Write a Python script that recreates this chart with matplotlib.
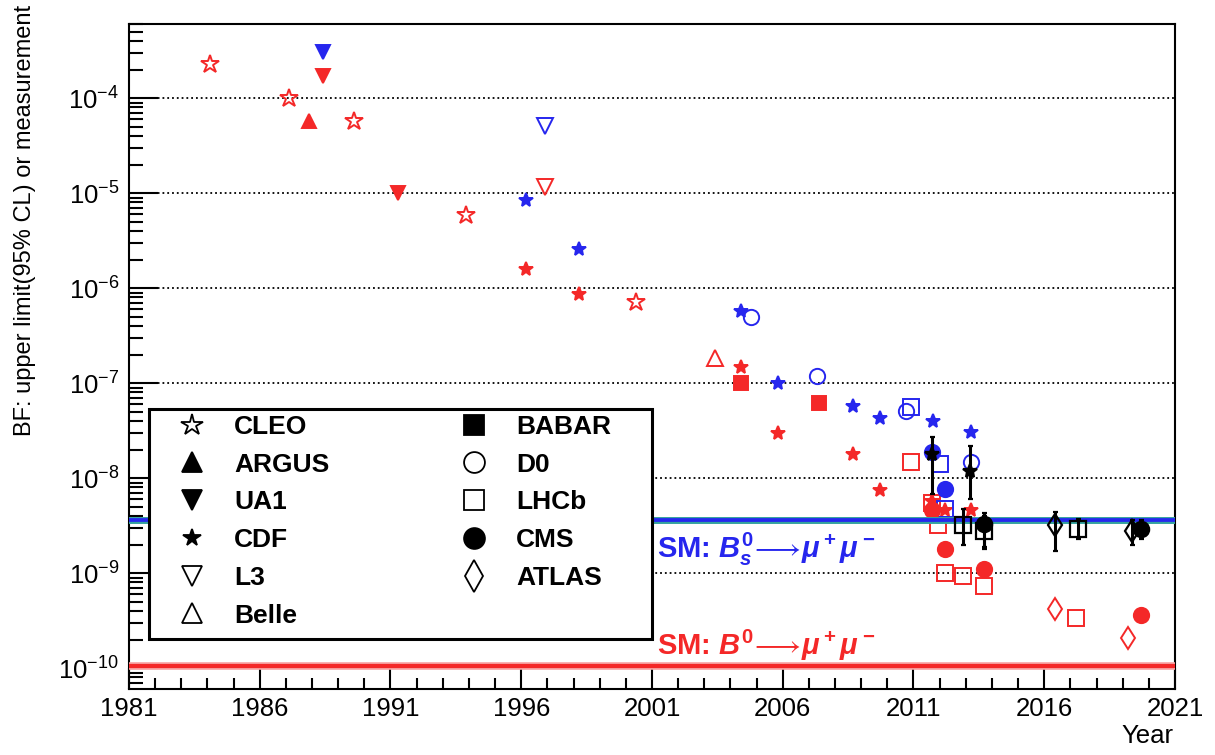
import numpy as np
import matplotlib.pyplot as plt
from matplotlib.lines import Line2D
from matplotlib.patches import Rectangle
from matplotlib.ticker import FixedLocator, MultipleLocator, LogLocator, NullFormatter, FuncFormatter

plt.rcParams['font.family'] = ['Liberation Sans', 'DejaVu Sans']
plt.rcParams['mathtext.fontset'] = 'custom'
plt.rcParams['mathtext.rm'] = 'Liberation Sans:bold'
plt.rcParams['mathtext.it'] = 'Liberation Sans:bold:italic'
plt.rcParams['mathtext.bf'] = 'Liberation Sans:bold'

# kind: 'd' = B0 -> mu mu limit (red), 's' = Bs -> mu mu limit (blue)
CLEO_YEAR = [1984.1, 1987.1, 1989.6, 1993.9, 2000.4]
CLEO_BF = [2.3e-4, 1.0e-4, 5.8e-5, 5.9e-6, 7.2e-7]
CLEO_KIND = ['d', 'd', 'd', 'd', 'd']

ARGUS_YEAR = [1987.9]
ARGUS_BF = [5.7e-5]
ARGUS_KIND = ['d']

UA1_YEAR = [1988.4, 1988.4, 1991.3]
UA1_BF = [3.1e-4, 1.7e-4, 1.0e-5]
UA1_KIND = ['s', 'd', 'd']

CDF_YEAR = [1996.2, 1996.2, 1998.2, 1998.2, 2004.4, 2004.4, 2005.8, 2005.8,
            2008.7, 2008.7, 2009.7, 2009.7, 2011.75, 2011.7, 2012.2, 2013.2, 2013.2]
CDF_BF = [8.4e-6, 1.6e-6, 2.6e-6, 8.7e-7, 5.8e-7, 1.5e-7, 1.0e-7, 3.0e-8,
          5.7e-8, 1.8e-8, 4.3e-8, 7.6e-9, 4.0e-8, 5.8e-9, 4.6e-9, 3.1e-8, 4.6e-9]
CDF_KIND = ['s', 'd', 's', 'd', 's', 'd', 's', 'd',
            's', 'd', 's', 'd', 's', 'd', 'd', 's', 'd']

L3_YEAR = [1996.9, 1996.9]
L3_BF = [5.1e-5, 1.17e-5]
L3_KIND = ['s', 'd']

BELLE_YEAR = [2003.4]
BELLE_BF = [1.85e-7]
BELLE_KIND = ['d']

BABAR_YEAR = [2004.4, 2007.4]
BABAR_BF = [1.0e-7, 6.2e-8]
BABAR_KIND = ['d', 'd']

D0_YEAR = [2004.8, 2007.3, 2010.7, 2013.2]
D0_BF = [5.0e-7, 1.2e-7, 5.1e-8, 1.5e-8]
D0_KIND = ['s', 's', 's', 's']

LHCB_YEAR = [2010.9, 2010.9, 2012.0, 2011.7, 2012.2, 2011.95, 2012.2, 2012.9, 2013.7, 2017.2]
LHCB_BF = [5.6e-8, 1.5e-8, 1.4e-8, 5.5e-9, 4.7e-9, 3.2e-9, 1.0e-9, 9.4e-10, 7.4e-10, 3.4e-10]
LHCB_KIND = ['s', 'd', 's', 'd', 's', 'd', 'd', 'd', 'd', 'd']

CMS_YEAR = [2011.7, 2012.2, 2011.7, 2012.2, 2013.7, 2019.7]
CMS_BF = [1.9e-8, 7.7e-9, 4.6e-9, 1.8e-9, 1.1e-9, 3.6e-10]
CMS_KIND = ['s', 's', 'd', 'd', 'd', 'd']

ATLAS_YEAR = [2016.4, 2019.2]
ATLAS_BF = [4.2e-10, 2.1e-10]
ATLAS_KIND = ['d', 'd']

# Bs -> mu mu measurements (black, with errors)
CDF_M_YEAR = [2011.72, 2013.16]
CDF_M_BF = [1.8e-8, 1.2e-8]
CDF_M_LO = [6.9e-9, 6.0e-9]
CDF_M_HI = [2.75e-8, 2.2e-8]

LHCB_M_YEAR = [2012.9, 2013.7, 2017.3]
LHCB_M_BF = [3.2e-9, 2.8e-9, 2.95e-9]
LHCB_M_LO = [2.0e-9, 1.9e-9, 2.3e-9]
LHCB_M_HI = [4.7e-9, 4.0e-9, 3.7e-9]

CMS_M_YEAR = [2013.7, 2019.7]
CMS_M_BF = [3.3e-9, 2.9e-9]
CMS_M_LO = [1.8e-9, 2.3e-9]
CMS_M_HI = [4.3e-9, 3.6e-9]

ATLAS_M_YEAR = [2016.4, 2019.35]
ATLAS_M_BF = [3.2e-9, 2.8e-9]
ATLAS_M_LO = [1.7e-9, 2.0e-9]
ATLAS_M_HI = [4.4e-9, 3.6e-9]

SM_BS = 3.66e-9
SM_B0 = 1.06e-10

YEAR_TICKS = [1981, 1986, 1991, 1996, 2001, 2006, 2011, 2016, 2021]
BF_TICKS = [1e-10, 1e-9, 1e-8, 1e-7, 1e-6, 1e-5, 1e-4]

RED = '#f42828'
BLUE = '#2626ee'
TEAL = '#35a3a0'

# name -> (marker, filled, data size, legend size)
STYLE = {
    'CLEO': ('*', False, 13.5, 16),
    'ARGUS': ('^', True, 10, 15),
    'UA1': ('v', True, 10, 15),
    'CDF': ('*', True, 10, 13),
    'L3': ('v', False, 11.5, 15),
    'Belle': ('^', False, 11.5, 15),
    'BABAR': ('s', True, 10, 15),
    'D0': ('o', False, 11, 15),
    'LHCb': ('s', False, 11, 15),
    'CMS': ('o', True, 11, 15),
    'ATLAS': ('d', False, 11.5, 16),
}

limits = [
    ('CLEO', CLEO_YEAR, CLEO_BF, CLEO_KIND),
    ('ARGUS', ARGUS_YEAR, ARGUS_BF, ARGUS_KIND),
    ('UA1', UA1_YEAR, UA1_BF, UA1_KIND),
    ('CDF', CDF_YEAR, CDF_BF, CDF_KIND),
    ('L3', L3_YEAR, L3_BF, L3_KIND),
    ('Belle', BELLE_YEAR, BELLE_BF, BELLE_KIND),
    ('BABAR', BABAR_YEAR, BABAR_BF, BABAR_KIND),
    ('D0', D0_YEAR, D0_BF, D0_KIND),
    ('LHCb', LHCB_YEAR, LHCB_BF, LHCB_KIND),
    ('CMS', CMS_YEAR, CMS_BF, CMS_KIND),
    ('ATLAS', ATLAS_YEAR, ATLAS_BF, ATLAS_KIND),
]

measurements = [
    ('CDF', CDF_M_YEAR, CDF_M_BF, CDF_M_LO, CDF_M_HI),
    ('LHCb', LHCB_M_YEAR, LHCB_M_BF, LHCB_M_LO, LHCB_M_HI),
    ('ATLAS', ATLAS_M_YEAR, ATLAS_M_BF, ATLAS_M_LO, ATLAS_M_HI),
    ('CMS', CMS_M_YEAR, CMS_M_BF, CMS_M_LO, CMS_M_HI),
]

fig = plt.figure(figsize=(12.15, 7.55), dpi=100)
ax = fig.add_axes([129 / 1215, 1 - 689 / 755, 1046 / 1215, 665 / 755])
ax.set_yscale('log')
ax.set_xlim(1981, 2021)
ax.set_ylim(6.05e-11, 6.05e-4)

for name, years, bfs, kinds in limits:
    marker, filled, ms, _ = STYLE[name]
    for kind, col in (('d', RED), ('s', BLUE)):
        x = [y for y, k in zip(years, kinds) if k == kind]
        v = [b for b, k in zip(bfs, kinds) if k == kind]
        if not x:
            continue
        ax.plot(x, v, ls='none', marker=marker, ms=ms, color=col,
                mfc=col if filled else 'none', mew=1.4, zorder=2)

# SM predictions
ax.axhline(SM_BS, color=TEAL, lw=5, zorder=3)
ax.axhline(SM_BS, color=BLUE, lw=2.7, zorder=3)
ax.axhline(SM_B0, color='#f7a3a3', lw=5.5, zorder=3)
ax.axhline(SM_B0, color=RED, lw=3, zorder=3)

for name, years, bfs, lo, hi in measurements:
    marker, filled, ms, _ = STYLE[name]
    yerr = [np.array(bfs) - np.array(lo), np.array(hi) - np.array(bfs)]
    ax.errorbar(years, bfs, yerr=yerr, fmt=marker, ms=ms, color='black',
                mfc='black' if filled else 'none', mew=1.6, elinewidth=2.2,
                capsize=1.8, capthick=2.2, zorder=5)

ax.text(2001.2, 10 ** -8.84, r'SM: $B_s^0\!\longrightarrow\!\mu^+\mu^-$',
        color=BLUE, fontsize=21, fontweight='bold', va='baseline', zorder=6)
ax.text(2001.2, 10 ** -9.86, r'SM: $B^0\!\longrightarrow\!\mu^+\mu^-$',
        color=RED, fontsize=21, fontweight='bold', va='baseline', zorder=6)

# axes styling
ax.xaxis.set_major_locator(FixedLocator(YEAR_TICKS))
ax.xaxis.set_minor_locator(MultipleLocator(1))
ax.xaxis.set_major_formatter(FuncFormatter(lambda v, p: '%d' % round(v)))
ax.yaxis.set_major_locator(FixedLocator(BF_TICKS))
ax.yaxis.set_minor_locator(LogLocator(base=10, subs=np.arange(2, 10), numticks=20))
ax.yaxis.set_minor_formatter(NullFormatter())
ax.yaxis.set_major_formatter(FuncFormatter(
    lambda v, p: r'$\mathdefault{10^{%d}}$' % round(np.log10(v))))
ax.tick_params(axis='both', which='both', direction='in', width=1.5,
               labelsize=18.5, top=False, right=False)
ax.tick_params(axis='y', which='major', length=21, pad=7)
ax.tick_params(axis='y', which='minor', length=10)
ax.tick_params(axis='x', which='major', length=15, pad=6)
ax.tick_params(axis='x', which='minor', length=8)
for s in ax.spines.values():
    s.set_linewidth(1.5)
ax.yaxis.grid(True, which='major', ls=':', color='black', lw=1.3)
ax.set_axisbelow(True)

# legend: white box with frame, entries placed inside it
ax.add_patch(Rectangle((20 / 1046, 50 / 665), 503 / 1046, 230 / 665, transform=ax.transAxes,
                       facecolor='white', edgecolor='black', lw=2.2, zorder=9))
handles = []
for name in STYLE:
    marker, filled, _, lms = STYLE[name]
    handles.append(Line2D([], [], ls='none', marker=marker, ms=lms, color='black',
                          mfc='black' if filled else 'none', mew=1.3))
leg = ax.legend(handles, list(STYLE.keys()), ncol=2, loc='upper left',
                bbox_to_anchor=(36.6 / 1046, 274 / 665),
                prop={'weight': 'bold', 'size': 19}, frameon=False,
                borderpad=0, labelspacing=0.52, handlelength=2.0,
                handletextpad=0.59, columnspacing=4.5, borderaxespad=0)
leg.set_zorder(10)

fig.text(25 / 1215, 1 - 5 / 755, 'BF: upper limit(95% CL) or measurement',
         rotation=90, ha='center', va='top', fontsize=17)
fig.text(1173 / 1215, 1 - 743 / 755, 'Year', ha='right', va='baseline', fontsize=18.5)

fig.savefig('out.png', dpi=100)
